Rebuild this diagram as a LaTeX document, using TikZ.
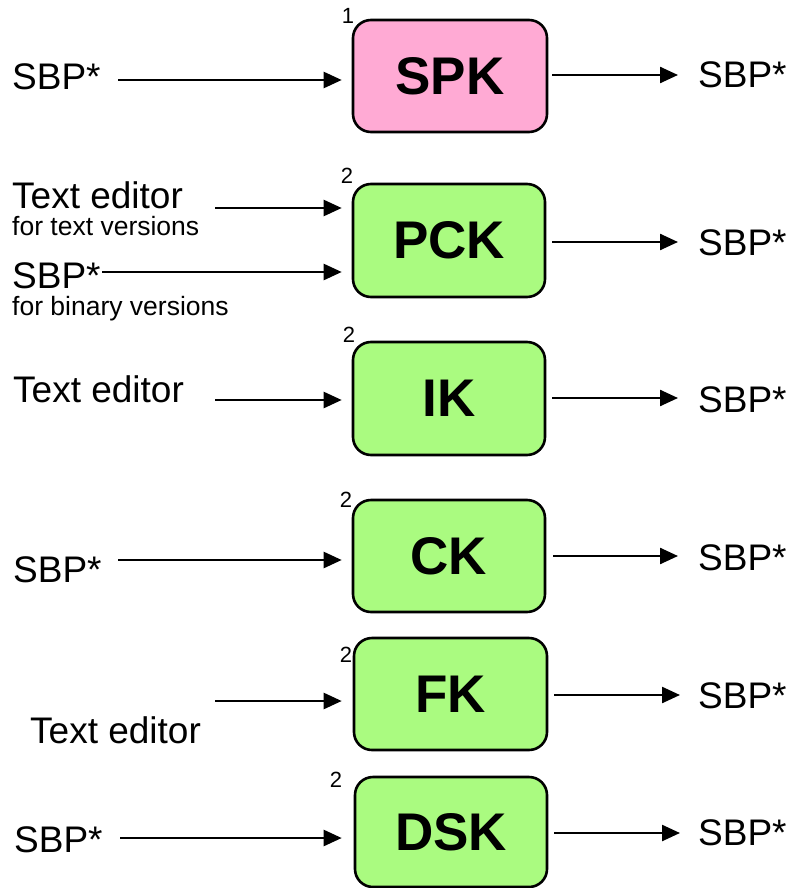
\documentclass[tikz,border=0pt]{standalone}
\usepackage{fontspec}
\setmainfont{Liberation Sans}
\usetikzlibrary{arrows.meta}
\definecolor{pinkfill}{HTML}{FFAAD4}
\definecolor{greenfill}{HTML}{AAFB80}
\tikzset{
  kbox/.style={draw=black, line width=2.6pt, rounded corners=18pt, inner sep=0pt,
    minimum width=192pt, minimum height=112pt,
    font=\fontsize{53}{56}\selectfont\bfseries},
  bigtxt/.style={inner sep=0pt, anchor=base west, font=\fontsize{37}{40}\selectfont},
  smalltxt/.style={inner sep=0pt, anchor=base west, font=\fontsize{26.5}{30}\selectfont},
  numtxt/.style={inner sep=0pt, font=\fontsize{22}{24}\selectfont},
  arr/.style={line width=2.4pt, -{Triangle[length=18pt,width=16pt]}},
}
\begin{document}
\begin{tikzpicture}[x=1pt,y=-1pt]
\useasboundingbox (0,0) rectangle (790,888);

% boxes
\node[kbox, fill=pinkfill, minimum width=194pt] (spk) at (450,76) {SPK};
\node[kbox, fill=greenfill, minimum height=113pt] (pck) at (449,240.5) {PCK};
\node[kbox, fill=greenfill, minimum height=113pt] (ik) at (449,398.5) {IK};
\node[kbox, fill=greenfill] (ck) at (449,556) {CK};
\node[kbox, fill=greenfill, minimum width=193pt] (fk) at (450.5,694) {FK};
\node[kbox, fill=greenfill, minimum height=110pt] (dsk) at (451,832) {DSK};

% superscript numbers
\node[numtxt] (n1) at (348,16) {1};
\node[numtxt] (n2) at (347,176) {2};
\node[numtxt] (n3) at (349,335) {2};
\node[numtxt] (n4) at (346,500) {2};
\node[numtxt] (n5) at (346,655) {2};
\node[numtxt] (n6) at (336,780) {2};

% left texts
\node[bigtxt] (l1) at (12,90) {SBP*};
\node[bigtxt] (l2a) at (12,208) {Text editor};
\node[smalltxt] (l2as) at (12,235) {for text versions};
\node[bigtxt] (l2b) at (12,288) {SBP*};
\node[smalltxt] (l2bs) at (12,315) {for binary versions};
\node[bigtxt] (l3) at (13,402) {Text editor};
\node[bigtxt] (l4) at (13,582) {SBP*};
\node[bigtxt] (l5) at (30,743) {Text editor};
\node[bigtxt] (l6) at (14,852) {SBP*};

% right texts
\node[bigtxt] (r1) at (698,88) {SBP*};
\node[bigtxt] (r2) at (698,255) {SBP*};
\node[bigtxt] (r3) at (698,412) {SBP*};
\node[bigtxt] (r4) at (698,570) {SBP*};
\node[bigtxt] (r5) at (698,708) {SBP*};
\node[bigtxt] (r6) at (698,845) {SBP*};

% input arrow starts
\coordinate (i1) at (118,80);
\coordinate (i2a) at (215,208);
\coordinate (i2b) at (102,272);
\coordinate (i3) at (215,400);
\coordinate (i4) at (118,560);
\coordinate (i5) at (215,701);
\coordinate (i6) at (120,838);

% output arrow ends
\coordinate (o1) at (678,75);
\coordinate (o2) at (678,242);
\coordinate (o3) at (678,398);
\coordinate (o4) at (678,556);
\coordinate (o5) at (680,695);
\coordinate (o6) at (680,833);

% input arrows
\draw[arr, shorten >=10pt] (i1) -- (i1 -| spk.west);
\draw[arr, shorten >=10pt] (i2a) -- (i2a -| pck.west);
\draw[arr, shorten >=10pt] (i2b) -- (i2b -| pck.west);
\draw[arr, shorten >=10pt] (i3) -- (i3 -| ik.west);
\draw[arr, shorten >=10pt] (i4) -- (i4 -| ck.west);
\draw[arr, shorten >=11pt] (i5) -- (i5 -| fk.west);
\draw[arr, shorten >=12pt] (i6) -- (i6 -| dsk.west);

% output arrows
\draw[arr, shorten <=4pt] (spk.east |- o1) -- (o1);
\draw[arr, shorten <=6pt] (pck.east |- o2) -- (o2);
\draw[arr, shorten <=6pt] (ik.east |- o3) -- (o3);
\draw[arr, shorten <=7pt] (ck.east |- o4) -- (o4);
\draw[arr, shorten <=6pt] (fk.east |- o5) -- (o5);
\draw[arr, shorten <=6pt] (dsk.east |- o6) -- (o6);
\end{tikzpicture}
\end{document}
